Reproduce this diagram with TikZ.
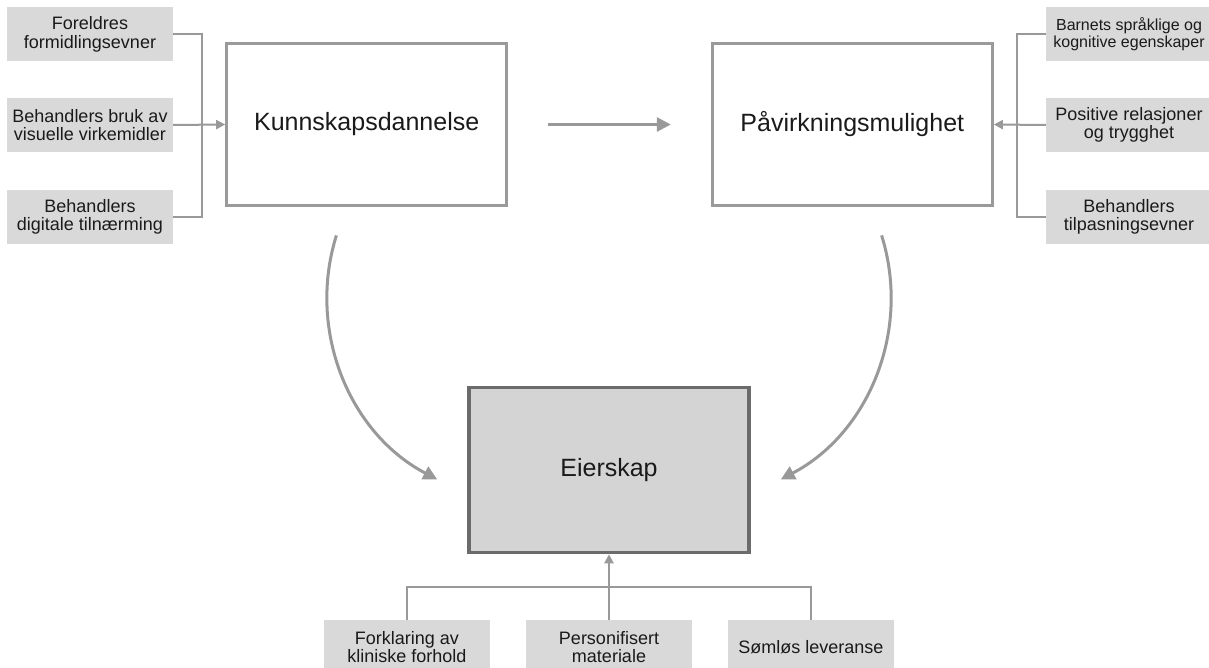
\documentclass[tikz,border=0pt]{standalone}
\usepackage{fontspec}
\setmainfont{Liberation Sans}
\usetikzlibrary{arrows.meta,calc}
\definecolor{conn}{HTML}{999999}
\definecolor{bigborder}{HTML}{9A9A9A}
\definecolor{eborder}{HTML}{6B6B6B}
\definecolor{efill}{HTML}{D4D4D4}
\definecolor{sfill}{HTML}{D9D9D9}
\definecolor{txt}{HTML}{1A1A1A}
\begin{document}
\begin{tikzpicture}[x=1pt,y=-1pt,
  bigbox/.style={draw=bigborder, line width=3pt, minimum width=280pt, minimum height=162pt,
    inner sep=0pt, text=txt, font=\fontsize{25}{30}\selectfont},
  ownbox/.style={bigbox, draw=eborder, fill=efill, line width=3.5pt, minimum height=165pt},
  sidebox/.style={fill=sfill, minimum width=166pt, minimum height=54pt, inner sep=0pt,
    align=center, text=txt, font=\fontsize{18}{18.5}\selectfont},
  thinline/.style={draw=conn, line width=2pt},
  thinarrow/.style={thinline, -{Triangle[length=9pt,width=9pt]}},
  bigarrow/.style={draw=conn, line width=3pt, -{Triangle[length=14pt,width=14pt]}}
]
\useasboundingbox (0,0) rectangle (1209,668);

% main boxes
\node[bigbox] (k) at (366.7,124.5) {Kunnskapsdannelse};
\node[bigbox] (p) at (852.3,124.5) {Påvirkningsmulighet};
\node[ownbox] (e) at (609,470) {Eierskap};

% left factors
\node[sidebox] (l1) at (90,34.5) {Foreldres\\formidlingsevner};
\node[sidebox] (l2) at (90,125) {Behandlers bruk av\\visuelle virkemidler};
\node[sidebox] (l3) at (90,216.7) {Behandlers\\digitale tilnærming};

% right factors
\node[sidebox, font=\fontsize{16}{17}\selectfont] (r1) at (1129,34.5) {Barnets språklige og\\kognitive egenskaper};
\node[sidebox] (r2) at (1129,125) {Positive relasjoner\\og trygghet};
\node[sidebox] (r3) at (1129,216.7) {Behandlers\\tilpasningsevner};

% bottom factors
\node[sidebox] (b1) at (407,647) {Forklaring av\\kliniske forhold};
\node[sidebox] (b2) at (609,647) {Personifisert\\materiale};
\node[sidebox] (b3) at (811,647) {Sømløs leveranse};

% left bracket
\coordinate (lx) at (202,125);
\draw[thinline] (l1.east) -| (lx) |- (l3.east);
\draw[thinarrow] (l2.east) -- (k.west);

% right bracket
\coordinate (rx) at (1017,125);
\draw[thinline] (r1.west) -| (rx) |- (r3.west);
\draw[thinarrow] (r2.west) -- (p.east);

% bottom bracket
\coordinate (bx) at (609,586.5);
\draw[thinline] (b1.north) |- (bx) -| (b3.north);
\draw[thinarrow] (b2.north) -- (e.south);

% top arrow
\draw[bigarrow, shorten <=40pt, shorten >=40pt] (k.east) -- (p.west);

% curved arrows
\coordinate (ks) at (336.4,235.4);
\coordinate (ps) at (881.6,235.4);
\draw[bigarrow] (ks) arc[start angle=197.4, end angle=117.7, radius=206];
\draw[bigarrow] (ps) arc[start angle=-17.4, end angle=62.3, radius=206];
\end{tikzpicture}
\end{document}
